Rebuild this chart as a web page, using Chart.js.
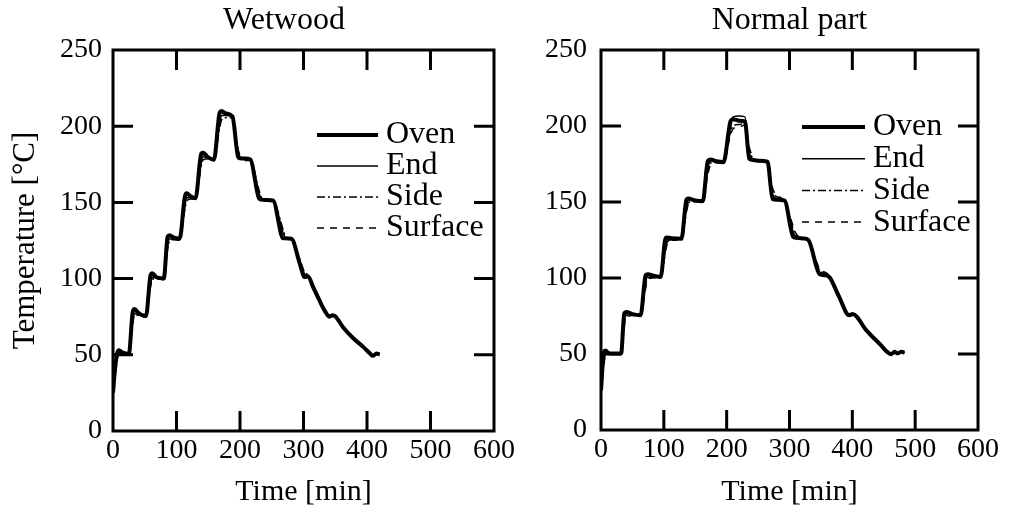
<!DOCTYPE html>
<html>
<head>
<meta charset="utf-8">
<script src="https://cdn.jsdelivr.net/npm/chart.js@4/dist/chart.umd.min.js"></script>
<style>
  body { margin: 0; background: #fff; }
  #wrap { position: relative; width: 1018px; height: 510px; overflow: hidden; }
  canvas { position: absolute; top: 0; }
  #wet { left: 0; }
  #norm { left: 509px; }
</style>
</head>
<body>
<div id="wrap">
  <canvas id="wet" width="568" height="510"></canvas>
  <canvas id="norm" width="509" height="510"></canvas>
</div>
<script>
  // ---- data ----
  var seriesNames = ['Oven', 'End', 'Side', 'Surface'];
  var xTicks = [0, 100, 200, 300, 400, 500, 600];   // Time [min]
  var yTicks = [0, 50, 100, 150, 200, 250];         // Temperature

  // Wetwood
  var wetTime    = [0, 3, 6, 9, 13, 18, 25, 31, 34, 40, 46, 52, 59, 62, 68, 75, 80, 86, 89, 95, 105, 113, 116, 122, 130, 139, 142, 150, 159, 168, 171, 177, 188, 197, 200, 208, 216, 230, 233, 242, 252, 268, 271, 281, 294, 302, 307, 315, 325, 334, 341, 346, 350, 362, 378, 394, 404, 409, 415, 420];
  var wetOven    = [25, 40, 50, 53, 52, 51, 50.5, 78, 80, 77.5, 76, 75.5, 102, 103.5, 101, 100.3, 100, 127.5, 128.5, 127, 126.2, 153.5, 156, 154, 152.8, 182, 182.5, 179.5, 178, 209, 210, 208.5, 206.5, 180, 179, 178.8, 178.3, 152.5, 151.8, 151.5, 151.2, 126.4, 126.4, 126.2, 110, 101, 101.6, 94.6, 85.8, 78.5, 75, 76, 75.3, 68.3, 61, 55.2, 51.2, 49.3, 50.8, 50.2];
  var wetEnd     = [25, 36, 47, 51, 51, 50.5, 50.2, 72, 77, 76.5, 75.5, 75, 96, 101, 100.5, 100, 99.6, 121, 126, 126, 125.5, 147, 153, 153, 152.3, 176, 180, 179, 177.7, 202, 207, 207, 206, 183, 180, 178.5, 178, 156, 153, 151.5, 151, 130, 127, 126, 112, 103, 102, 95.5, 86.5, 79, 75.8, 76, 75.5, 68.5, 61.2, 55.4, 51.4, 49.6, 50.7, 50.3];
  var wetSide    = [25, 34, 45, 50, 50.5, 50.3, 50, 70, 76, 76, 75.2, 74.8, 94, 99.5, 100, 99.6, 99.4, 119, 124.5, 125.5, 125.2, 145, 151, 152.2, 152, 174, 178, 178.6, 177.4, 199, 204, 205.5, 205.5, 185, 181, 177.5, 177.5, 158, 154, 150.8, 150.7, 132, 128, 125.5, 113, 104, 102.5, 96, 87, 79.5, 76.2, 76.2, 75.6, 68.8, 61.5, 55.6, 51.6, 49.8, 50.6, 50.4];
  var wetSurface = [25, 38, 49, 52, 51.5, 50.8, 50.3, 75, 78.5, 77, 75.8, 75.2, 99, 102.5, 100.8, 100.1, 99.8, 124, 127.5, 126.5, 125.8, 150, 155, 153.5, 152.5, 179, 181.5, 179.2, 177.8, 205, 208.5, 208, 206.2, 181.5, 179.5, 178.6, 178.1, 154, 152.4, 151.3, 151, 128, 126.8, 126, 111, 102, 101.8, 95, 86, 78.8, 75.4, 76, 75.4, 68.4, 61.1, 55.3, 51.3, 49.4, 50.8, 50.2];

  // Normal part
  var normTime    = [0, 3, 5, 7, 12, 20, 32, 37, 40, 50, 63, 71, 74, 87, 95, 103, 106, 113, 128, 136, 139, 150, 162, 170, 174, 185, 195, 206, 210, 220, 229, 236, 240, 250, 265, 273, 280, 292, 306, 310, 322, 330, 348, 358, 364, 379, 395, 401, 422, 443, 462, 467, 472, 478, 483];
  var normOven    = [26, 45, 51.5, 52.3, 50.6, 50.3, 50.3, 76.6, 77.7, 76.2, 75.5, 101.8, 102.5, 101.1, 100.7, 126.5, 126.6, 126.1, 125.8, 151.5, 152.3, 151, 150.5, 177, 178, 176.5, 176.2, 203, 204.5, 203.5, 203, 178.5, 177.8, 177.2, 176.5, 152, 151.5, 151, 127, 126.5, 126, 125, 102.5, 101.8, 100.3, 87.6, 75.5, 76.2, 65.7, 56.9, 49.9, 51.4, 50.4, 51.4, 51];
  var normEnd     = [26, 40, 48, 51, 50.8, 50.4, 50.2, 72, 76.5, 76.5, 75.8, 97, 101.5, 101.5, 100.9, 122, 125.5, 126.2, 126, 147, 151, 151.5, 151, 172, 177, 177.5, 177, 199, 206, 206.5, 206, 182, 179, 177.5, 176.8, 155, 152.5, 151.2, 130, 127.5, 126.2, 125.4, 104, 102.5, 100.8, 88.2, 76, 76.4, 66, 57.2, 50.2, 51.2, 50.6, 51.2, 51];
  var normSide    = [26, 38, 46, 50, 50.5, 50.2, 50, 70, 75, 75.8, 75.3, 95, 100, 100.6, 100.4, 120, 124, 125.4, 125.5, 145, 149.5, 150.6, 150.6, 170, 175.5, 176.6, 176.4, 196, 200, 201, 201.5, 184, 180, 177, 176.2, 157, 153.5, 150.8, 132, 128.5, 126, 124.8, 105, 103, 101, 88.5, 76.4, 76.6, 66.2, 57.4, 50.4, 51.1, 50.7, 51.1, 51];
  var normSurface = [26, 36, 44, 49, 50.2, 50.1, 49.8, 68, 74, 75.3, 75, 93, 99, 100.2, 100.2, 118, 123, 124.8, 125.2, 143, 148.5, 150.2, 150.3, 168, 174, 176, 176, 194, 198, 199.5, 200.5, 186, 181, 176.5, 175.8, 159, 154.5, 150.5, 134, 129.5, 125.8, 124.5, 106, 103.5, 101.2, 89, 76.8, 76.8, 66.5, 57.6, 50.6, 51, 50.8, 51, 51];

  // ---- styles ----
  var serif = "'Liberation Serif', 'Times New Roman', serif";
  Chart.defaults.font.family = serif;
  Chart.defaults.color = '#000';
  var lineStyles = [
    { width: 4,   dash: [] },
    { width: 1.5, dash: [] },
    { width: 1.5, dash: [8, 3, 2, 3] },
    { width: 1.5, dash: [7, 6] }
  ];

  // box with inward ticks on all four sides + the key inside the plot
  var frameAndKey = {
    id: 'frameAndKey',
    afterDraw: function(chart, args, opts) {
      var ctx = chart.ctx, a = chart.chartArea;
      var x = chart.scales.x, y = chart.scales.y;
      ctx.save();
      ctx.strokeStyle = '#000';
      ctx.lineWidth = 3;
      ctx.beginPath();
      x.ticks.forEach(function(t) {
        if (t.value <= x.min || t.value >= x.max) return;
        var px = x.getPixelForValue(t.value);
        ctx.moveTo(px, a.bottom); ctx.lineTo(px, a.bottom - 20);
        ctx.moveTo(px, a.top); ctx.lineTo(px, a.top + 20);
      });
      y.ticks.forEach(function(t) {
        if (t.value <= y.min || t.value >= y.max) return;
        var py = y.getPixelForValue(t.value);
        ctx.moveTo(a.left, py); ctx.lineTo(a.left + 20, py);
        ctx.moveTo(a.right, py); ctx.lineTo(a.right - 20, py);
      });
      ctx.stroke();
      ctx.strokeRect(a.left, a.top, a.right - a.left, a.bottom - a.top);

      ctx.font = '32px ' + serif;
      ctx.textBaseline = 'middle';
      ctx.fillStyle = '#000';
      chart.data.datasets.forEach(function(ds, i) {
        var ly = a.top + opts.top + i * opts.gap;
        var lx = a.left + opts.left;
        ctx.lineWidth = ds.borderWidth;
        ctx.setLineDash(ds.borderDash);
        ctx.beginPath();
        ctx.moveTo(lx, ly);
        ctx.lineTo(lx + opts.len, ly);
        ctx.stroke();
        ctx.setLineDash([]);
        ctx.fillText(ds.label, lx + opts.len + 8, ly);
      });
      ctx.restore();
    }
  };

  function makeChart(id, title, times, series, o) {
    var datasets = series.map(function(vals, i) {
      return {
        label: seriesNames[i],
        data: times.map(function(t, k) { return { x: t, y: vals[k] }; }),
        borderColor: '#000',
        borderWidth: lineStyles[i].width,
        borderDash: lineStyles[i].dash,
        pointRadius: 0,
        cubicInterpolationMode: 'monotone',
        fill: false
      };
    });

    var scales = {
      x: {
        type: 'linear',
        min: xTicks[0], max: xTicks[xTicks.length - 1],
        grid: { display: false, drawTicks: false },
        border: { display: false },
        ticks: { stepSize: xTicks[1] - xTicks[0], padding: 3, font: { size: 28 } },
        title: { display: true, text: 'Time [min]', font: { size: 30, lineHeight: 1 }, padding: { top: 0, bottom: 3 } },
        afterFit: function(s) { s.height = o.xHeight; }
      },
      y: {
        type: 'linear',
        min: yTicks[0], max: yTicks[yTicks.length - 1],
        grid: { display: false, drawTicks: false },
        border: { display: false },
        ticks: { stepSize: yTicks[1] - yTicks[0], padding: o.yPad, font: { size: 28 } },
        title: { display: o.yTitle, text: 'Temperature [°C]', font: { size: 31, lineHeight: 1 }, padding: { top: 10, bottom: 0 } },
        afterFit: function(s) { s.width = o.yWidth; }
      }
    };
    if (o.rightSpace) {
      scales.yr = {
        type: 'linear', position: 'right',
        grid: { display: false, drawTicks: false }, border: { display: false }, ticks: { display: false },
        afterFit: function(s) { s.width = o.rightSpace; }
      };
    }

    return new Chart(document.getElementById(id), {
      type: 'line',
      data: { datasets: datasets },
      options: {
        responsive: false,
        animation: false,
        devicePixelRatio: 1,
        layout: { padding: { left: 0, right: o.padRight, top: 0, bottom: 0 } },
        scales: scales,
        plugins: {
          legend: { display: false },
          tooltip: { enabled: false },
          title: {
            display: true, text: title, fullSize: o.titleFull,
            font: { size: 32, weight: 'normal', lineHeight: 1 },
            padding: { top: 5, bottom: 13 }
          },
          frameAndKey: o.key
        }
      },
      plugins: [frameAndKey]
    });
  }

  makeChart('wet', 'Wetwood', wetTime, [wetOven, wetEnd, wetSide, wetSurface], {
    xHeight: 79, yWidth: 113, yPad: 11, yTitle: true, rightSpace: 74, padRight: 0, titleFull: true,
    key: { left: 204, len: 61, top: 85, gap: 31 }
  });

  makeChart('norm', 'Normal part', normTime, [normOven, normEnd, normSide, normSurface], {
    xHeight: 80, yWidth: 92, yPad: 14, yTitle: false, rightSpace: 0, padRight: 40, titleFull: false,
    key: { left: 201, len: 63, top: 77, gap: 31.7 }
  });
</script>
</body>
</html>
